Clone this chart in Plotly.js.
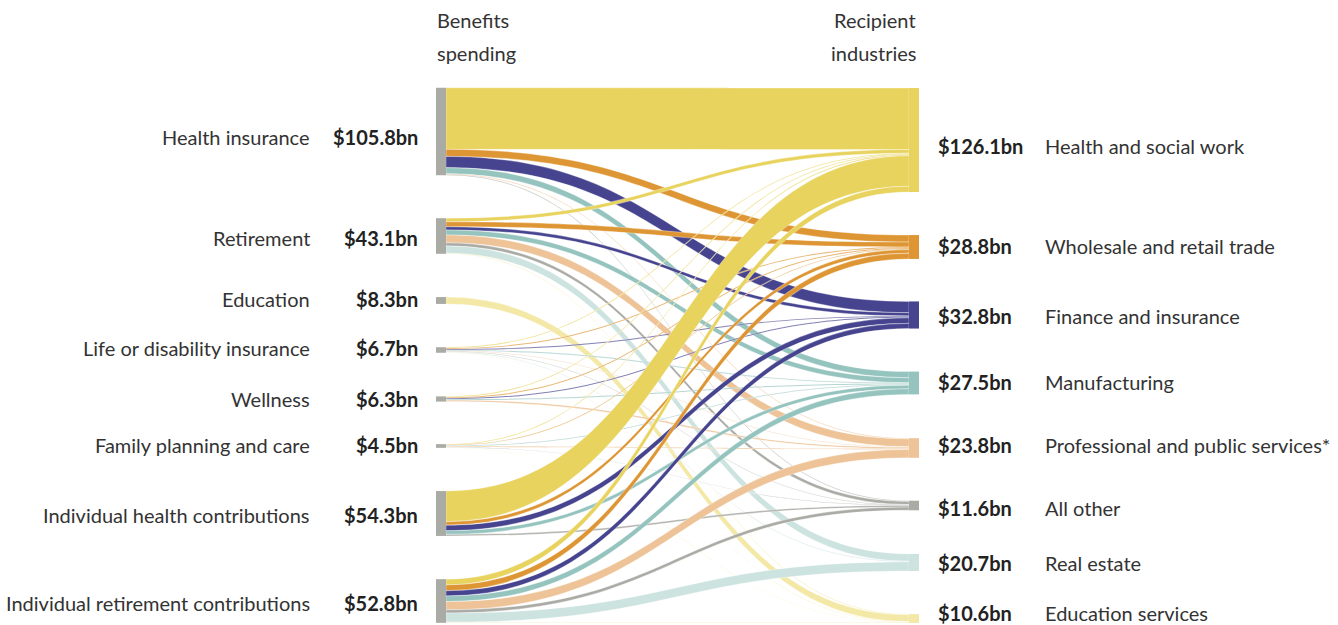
<!DOCTYPE html>
<html><head><meta charset="utf-8">
<script src="https://cdn.plot.ly/plotly-3.0.1.min.js"></script>
<style>html,body{margin:0;padding:0;background:#fff}</style>
</head><body><div id="chart" style="width:1338px;height:625px"></div>
<script>
// ---------- DATA ----------
const sourceNames = ['Health insurance', 'Retirement', 'Education', 'Life or disability insurance',
  'Wellness', 'Family planning and care', 'Individual health contributions', 'Individual retirement contributions'];
const sourceTotals = ['$105.8bn', '$43.1bn', '$8.3bn', '$6.7bn', '$6.3bn', '$4.5bn', '$54.3bn', '$52.8bn'];
const targetNames = ['Health and social work', 'Wholesale and retail trade', 'Finance and insurance',
  'Manufacturing', 'Professional and public services*', 'All other', 'Real estate', 'Education services'];
const targetTotals = ['$126.1bn', '$28.8bn', '$32.8bn', '$27.5bn', '$23.8bn', '$11.6bn', '$20.7bn', '$10.6bn'];
// flows[source][target], $bn
const flows = [
  [74.5, 8.5, 13.6, 7.4, 0.9, 0.9, 0, 0],
  [4.4, 6.0, 3.9, 6.0, 9.4, 3.8, 8.8, 0.8],
  [0, 0, 0, 0, 0, 0, 0, 8.3],
  [1.0, 1.2, 1.1, 1.0, 0.6, 0.6, 0.8, 0.4],
  [1.0, 1.2, 1.2, 1.2, 1.7, 0, 0, 0],
  [1.0, 0.7, 0, 0.8, 1.1, 0.5, 0, 0.4],
  [37.0, 4.3, 6.7, 4.4, 0, 1.9, 0, 0],
  [7.0, 7.0, 6.3, 6.8, 10.0, 3.9, 11.1, 0.7]
];
const headerLeft = ['Benefits', 'spending'];
const headerRight = ['Recipient', 'industries'];

// ---------- LAYOUT / STYLE ----------
const W = 1338, H = 625;
const leftX = 441, rightX = 914;
const leftNodeY = [131.5, 236, 300.5, 350, 399, 446, 513.5, 601];
const rightNodeY = [140, 247, 315, 383, 448, 505.5, 562.5, 618.5];
const leftLabelY = [137, 238, 299, 348, 399, 445, 515, 603];
const rightLabelY = [146, 246, 316, 382, 445, 508, 563, 613];
const grey = '#ABABA6';
const targetColors = ['#E8D35E', '#DE9634', '#46448F', '#95C4BF', '#EDC397', '#ABABA6', '#CCE3E0', '#F3E8A6'];
const FONT = 'Lato, "Noto Sans", sans-serif';
const textColor = '#333333';

function hexA(hex, a) {
  const n = parseInt(hex.slice(1), 16);
  return `rgba(${(n >> 16) & 255},${(n >> 8) & 255},${n & 255},${a})`;
}

const nS = sourceNames.length, nT = targetNames.length;
const src = [], tgt = [], val = [], lcol = [];
for (let i = 0; i < nS; i++) {
  for (let j = 0; j < nT; j++) {
    if (flows[i][j] > 0) {
      src.push(i); tgt.push(nS + j); val.push(flows[i][j]); lcol.push(hexA(targetColors[j], 1));
    }
  }
}

const nodeX = [], nodeY = [], nodeColor = [];
for (let i = 0; i < nS; i++) { nodeX.push(leftX / W); nodeY.push(leftNodeY[i] / H); nodeColor.push(grey); }
for (let j = 0; j < nT; j++) { nodeX.push(rightX / W); nodeY.push(rightNodeY[j] / H); nodeColor.push(targetColors[j]); }

const trace = {
  type: 'sankey',
  arrangement: 'fixed',
  domain: {x: [0, 1], y: [0, 1]},
  hoverinfo: 'none',
  textfont: {color: 'rgba(0,0,0,0)', size: 1},
  node: {
    label: sourceNames.concat(targetNames),
    x: nodeX, y: nodeY,
    color: nodeColor,
    thickness: 10,
    pad: 56,
    line: {width: 0},
    hoverinfo: 'none'
  },
  link: {
    source: src, target: tgt, value: val, color: lcol,
    line: {color: '#ffffff', width: 0.35},
    hoverinfo: 'none'
  }
};

const ann = [];
function addText(x, y, text, anchor, bold) {
  ann.push({
    xref: 'paper', yref: 'paper', x: x / W, y: 1 - y / H,
    xanchor: anchor, yanchor: 'middle', showarrow: false,
    text: bold ? '<b>' + text + '</b>' : text,
    font: {family: FONT, size: 20, color: bold ? '#222222' : textColor}
  });
}
for (let i = 0; i < nS; i++) {
  addText(312, leftLabelY[i], sourceNames[i], 'right', false);
  addText(420, leftLabelY[i], sourceTotals[i], 'right', true);
}
for (let j = 0; j < nT; j++) {
  addText(936, rightLabelY[j], targetTotals[j], 'left', true);
  addText(1043, rightLabelY[j], targetNames[j], 'left', false);
}
addText(435, 20, headerLeft[0], 'left', false);
addText(435, 53, headerLeft[1], 'left', false);
addText(918, 20, headerRight[0], 'right', false);
addText(918, 53, headerRight[1], 'right', false);

const layout = {
  width: W, height: H,
  margin: {l: 0, r: 0, t: 0, b: 0},
  paper_bgcolor: '#ffffff',
  font: {family: FONT},
  annotations: ann
};
Plotly.newPlot('chart', [trace], layout, {displayModeBar: false, staticPlot: true});
</script>
</body></html>
